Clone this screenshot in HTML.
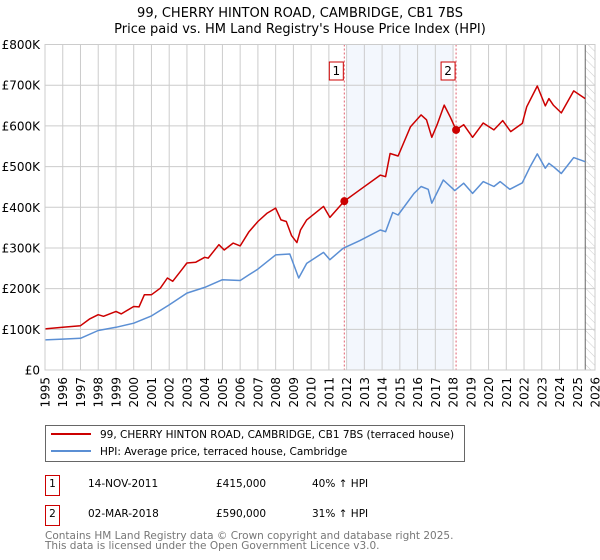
<!DOCTYPE html>
<html><head><meta charset="utf-8"><style>
body{margin:0;background:#fff;font-family:"Liberation Sans","DejaVu Sans",sans-serif;}
#wrap{position:relative;width:600px;height:560px;overflow:hidden;}
svg text{font-family:"DejaVu Sans","Liberation Sans",sans-serif;}
</style></head><body>
<div id="wrap">
<svg id="chart" width="600" height="560"></svg>
</div>
<script>
const yTicks=[0,100,200,300,400,500,600,700,800];
const yTickLabels=["£0","£100K","£200K","£300K","£400K","£500K","£600K","£700K","£800K"];
const years=[1995,1996,1997,1998,1999,2000,2001,2002,2003,2004,2005,2006,2007,2008,2009,2010,2011,2012,2013,2014,2015,2016,2017,2018,2019,2020,2021,2022,2023,2024,2025,2026];
const hpiDates=[1995,1996,1997,1998,1999,2000,2001,2002,2003,2004,2005,2006,2006.5,2007,2008,2008.8,2009.3,2009.75,2010.7,2011.06,2011.8,2012.75,2013.9,2014.2,2014.6,2014.9,2015.8,2016.2,2016.6,2016.8,2017.45,2018.1,2018.6,2019.1,2019.7,2020.3,2020.65,2021.2,2021.9,2022.35,2022.75,2023.2,2023.4,2023.65,2024.1,2024.8,2025.45];
const hpiValues=[74,76,78,97,105,115,133,160,189,203,222,220,234,248,283,285,226,262,289,271,299,318,344,340,387,381,434,451,444,410,467,441,459,434,463,451,463,444,460,500,531,496,508,500,483,522,512];
const redDates=[1995,1996,1997,1997.5,1998,1998.3,1999,1999.3,2000,2000.3,2000.6,2001,2001.5,2001.9,2002.2,2002.7,2003,2003.5,2004,2004.2,2004.8,2005.1,2005.6,2006,2006.5,2007,2007.5,2008,2008.3,2008.6,2008.9,2009.2,2009.4,2009.75,2010.7,2011.06,2011.87,2012.75,2013.9,2014.2,2014.45,2014.9,2015.6,2016.2,2016.5,2016.8,2017.1,2017.5,2017.85,2018.17,2018.6,2019.1,2019.7,2020.3,2020.8,2021.25,2021.9,2022.15,2022.75,2023.2,2023.4,2023.65,2024.1,2024.8,2025.45];
const redValues=[101,105,109,125,136,132,144,138,156,155,185,185,201,226,218,246,263,265,277,275,308,295,312,305,340,365,385,398,369,365,330,313,344,369,402,375,415,443,479,475,532,526,598,627,615,572,603,651,621,590,603,572,607,590,613,586,606,647,698,649,667,651,632,686,667];
const saleDates=[2011.87,2018.17];
const salePrices=[415,590];
const saleLabels=["1","2"];

const L=45,R=595,T=44.5,B=370;
const x=y=>L+(y-1995)*(R-L)/31;
const yv=v=>B-v*(B-T)/800;
const svg=document.getElementById('chart');
const NS='http://www.w3.org/2000/svg';
function mk(tag,attrs,parent){const e=document.createElementNS(NS,tag);for(const k in attrs)e.setAttribute(k,attrs[k]);(parent||svg).appendChild(e);return e;}

let t=mk('text',{x:300,y:17,'text-anchor':'middle','font-size':13,fill:'#000'});t.textContent='99, CHERRY HINTON ROAD, CAMBRIDGE, CB1 7BS';


t=mk('text',{x:300,y:33,'text-anchor':'middle','font-size':13,fill:'#000'});t.textContent="Price paid vs. HM Land Registry's House Price Index (HPI)";



let sh=mk('rect',{x:x(2012.0),y:T,width:x(2018.0)-x(2012.0),height:B-T,fill:'#eef3fc',opacity:0.7});


const defs=mk('defs',{});
const pat=mk('pattern',{id:'hatch',width:6,height:6,patternUnits:'userSpaceOnUse',patternTransform:'rotate(-45)'},defs);
mk('line',{x1:0,y1:0,x2:0,y2:6,stroke:'#ccc','stroke-width':1},pat);
let hz=mk('rect',{x:x(2025.45),y:T,width:R-x(2025.45),height:B-T,fill:'url(#hatch)'});



yTicks.forEach((v,i)=>{
  const g=mk('line',{x1:L,x2:R,y1:yv(v),y2:yv(v),stroke:'#cccccc','stroke-width':1});
  
  
  const tx=mk('text',{x:40,y:yv(v)+4.5,'text-anchor':'end','font-size':12,fill:'#000'});
  tx.textContent=yTickLabels[i];
  
  
});
years.forEach(yr=>{
  const g=mk('line',{x1:x(yr),x2:x(yr),y1:T,y2:B,stroke:'#cccccc','stroke-width':1});
  
  
  const tx=mk('text',{x:0,y:0,'text-anchor':'end','font-size':12,fill:'#000',transform:`translate(${x(yr)+4.5},377) rotate(-90)`});
  tx.textContent=yr;
  
  
});
let vl=mk('line',{x1:x(2025.45),x2:x(2025.45),y1:T,y2:B,stroke:'#666','stroke-width':1});



saleDates.forEach((d,i)=>{
  const l=mk('line',{x1:x(d),x2:x(d),y1:T,y2:B,stroke:'#e06070','stroke-width':1,'stroke-dasharray':'2,2'});
  
  
  const bx=mk('rect',{x:x(d)-15,y:62,width:14,height:18,fill:'#fff',stroke:'#cc0000','stroke-width':1});
  
  
  const tx=mk('text',{x:x(d)-8,y:75,'text-anchor':'middle','font-size':12,fill:'#000'});
  tx.textContent=saleLabels[i];
  
  
});

function path(ds,vs){return ds.map((d,i)=>(i?'L':'M')+x(d).toFixed(1)+','+yv(vs[i]).toFixed(1)).join(' ');}
let hp=mk('path',{d:path(hpiDates,hpiValues),fill:'none',stroke:'#5b8fd4','stroke-width':1.5,'stroke-linejoin':'round'});


let rp=mk('path',{d:path(redDates,redValues),fill:'none',stroke:'#cc0000','stroke-width':1.5,'stroke-linejoin':'round'});


saleDates.forEach((d,i)=>{
  const c=mk('circle',{cx:x(d),cy:yv(salePrices[i]),r:4,fill:'#cc0000'});
  
  
});
let fr=mk('rect',{x:L,y:T,width:R-L,height:B-T,fill:'none',stroke:'#cccccc','stroke-width':1});



let lg=mk('rect',{x:45.5,y:425.5,width:419,height:36,fill:'#fff',stroke:'#666','stroke-width':1});


let ll=mk('line',{x1:51,x2:91,y1:434,y2:434,stroke:'#cc0000','stroke-width':2});


ll=mk('line',{x1:51,x2:91,y1:451,y2:451,stroke:'#5b8fd4','stroke-width':2});


t=mk('text',{x:100,y:438,'font-size':10.5,fill:'#000'});t.textContent='99, CHERRY HINTON ROAD, CAMBRIDGE, CB1 7BS (terraced house)';


t=mk('text',{x:100,y:455,'font-size':10.5,fill:'#000'});t.textContent='HPI: Average price, terraced house, Cambridge';



const rowsY=[475,505];
const rDates=["14-NOV-2011","02-MAR-2018"],rPrices=["£415,000","£590,000"],rPct=["40% ↑ HPI","31% ↑ HPI"];
rowsY.forEach((yy,i)=>{
  const b=mk('rect',{x:45.5,y:yy+0.5,width:14,height:20,fill:'#fff',stroke:'#cc0000','stroke-width':1});
  
  
  let e=mk('text',{x:52.5,y:yy+12,'text-anchor':'middle','font-size':10.5});e.textContent=saleLabels[i];
  
  
  e=mk('text',{x:88,y:yy+12,'font-size':10.5});e.textContent=rDates[i];
  
  
  e=mk('text',{x:216,y:yy+12,'font-size':10.5});e.textContent=rPrices[i];
  
  
  e=mk('text',{x:312,y:yy+12,'font-size':10.5});e.textContent=rPct[i];
  
  
});
t=mk('text',{x:45,y:539,'font-size':10.5,fill:'#777'});t.textContent='Contains HM Land Registry data © Crown copyright and database right 2025.';


t=mk('text',{x:45,y:549,'font-size':10.5,fill:'#777'});t.textContent='This data is licensed under the Open Government Licence v3.0.';


</script>
</body></html>
